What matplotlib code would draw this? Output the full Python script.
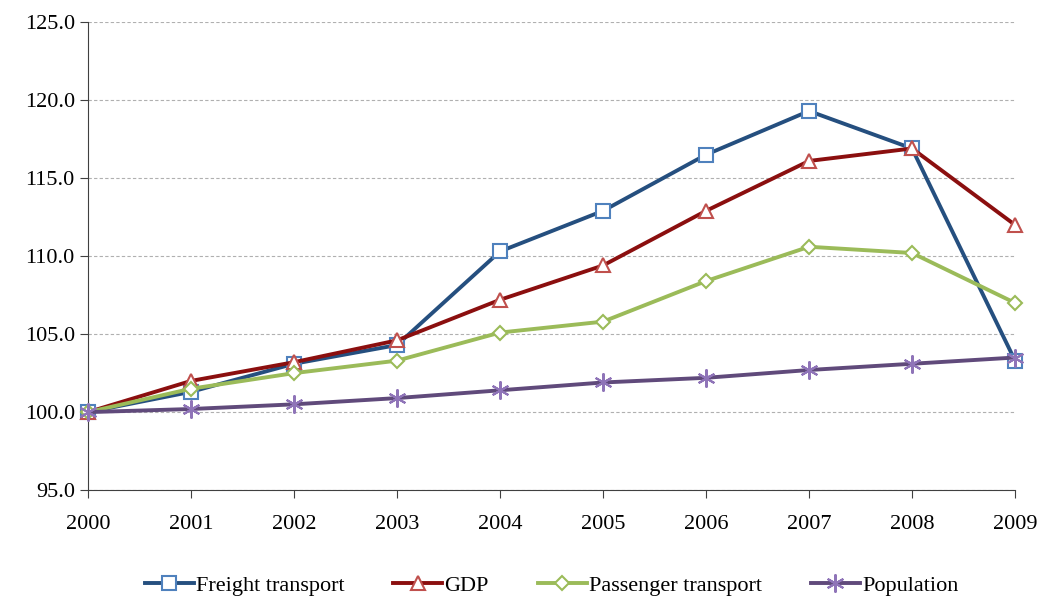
import numpy as np
import matplotlib.pyplot as plt

plt.rcParams['font.family'] = ['Liberation Serif', 'DejaVu Serif']

years = [2000, 2001, 2002, 2003, 2004, 2005, 2006, 2007, 2008, 2009]
freight = [100.0, 101.3, 103.1, 104.3, 110.3, 112.9, 116.5, 119.3, 116.9, 103.3]
gdp = [100.0, 102.0, 103.2, 104.6, 107.2, 109.4, 112.9, 116.1, 116.9, 112.0]
passenger = [100.0, 101.5, 102.5, 103.3, 105.1, 105.8, 108.4, 110.6, 110.2, 107.0]
population = [100.0, 100.2, 100.5, 100.9, 101.4, 101.9, 102.2, 102.7, 103.1, 103.5]

fig = plt.figure(figsize=(10.4, 5.97), dpi=100)
ax = fig.add_axes([0.0846, 0.179, 0.8914, 0.784])

# series: label, values, line colour, marker, marker size, marker edge colour
series = [
    ('Freight transport', freight, '#254F7F', 's', 10, '#4F81BD'),
    ('GDP', gdp, '#8B0F0F', '^', 10, '#C0504D'),
    ('Passenger transport', passenger, '#9BBB59', 'D', 7, '#9BBB59'),
    ('Population', population, '#604A7B', (6, 2, 0), 13, '#8F74B8'),
]

for label, vals, col, mk, ms, mec in series:
    ax.plot(years, vals, color=col, lw=2.8, marker=mk, markersize=ms,
            markerfacecolor='white', markeredgecolor=mec, markeredgewidth=1.5,
            label=label, clip_on=False, zorder=3)

ax.set_xlim(2000, 2009)
ax.set_ylim(95, 125)
ax.set_xticks(years)
ax.set_yticks(np.arange(95, 126, 5))
ax.set_yticklabels([f'{v:.1f}' for v in np.arange(95, 126, 5)])
ax.tick_params(labelsize=16, direction='out', length=6, color='#404040')
ax.tick_params(axis='x', pad=12)

ax.grid(axis='y', color='#B0B0B0', linestyle=(0, (3, 2)), lw=0.8)
ax.set_axisbelow(True)
for s in ['top', 'right']:
    ax.spines[s].set_visible(False)
for s in ['left', 'bottom']:
    ax.spines[s].set_color('#404040')

ax.legend(loc='upper center', bbox_to_anchor=(0.5, -0.14), ncol=4, frameon=False,
          fontsize=16, handlelength=2.2, columnspacing=2.2, handletextpad=0.1)

fig.savefig('out.png', dpi=100)
